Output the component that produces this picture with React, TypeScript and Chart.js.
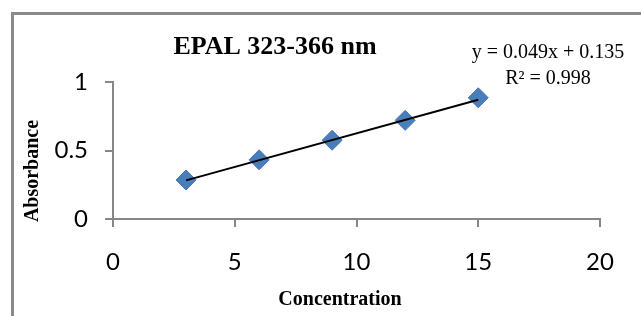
import React, { useEffect, useRef } from "react";
import { Chart, registerables } from "chart.js";

Chart.register(...registerables);

const concentration = [3, 6, 9, 12, 15];
const absorbance = [0.285, 0.432, 0.575, 0.72, 0.885];
const trendX = [3, 15];
const trendY = [0.282, 0.87];
const xTicks = [0, 5, 10, 15, 20];
const yTicks = [0, 0.5, 1];
const chartTitle = "EPAL 323-366 nm";
const xTitle = "Concentration";
const yTitle = "Absorbance";
const equation = "y = 0.049x + 0.135";
const rSquared = "R² = 0.998";

const SERIF = '"Liberation Serif", "Times New Roman", serif';
const SANS = 'Lato, "Open Sans", sans-serif';

const textPlugin = {
  id: "decor",
  beforeDraw(chart: any) {
    const ctx = chart.ctx;
    ctx.save();
    ctx.fillStyle = "#ffffff";
    ctx.fillRect(0, 0, chart.width, chart.height);
    ctx.strokeStyle = "#8a8a8a";
    ctx.lineWidth = 3;
    ctx.strokeRect(12.5, 13.5, 800, 500);
    ctx.restore();
  },
  afterDraw(chart: any) {
    const ctx = chart.ctx;
    ctx.save();
    ctx.fillStyle = "#000000";
    ctx.textAlign = "center";
    ctx.textBaseline = "middle";
    ctx.font = `bold 26px ${SERIF}`;
    ctx.fillText(chartTitle, 275, 47);
    ctx.font = `20px ${SERIF}`;
    ctx.fillText(equation, 548, 53);
    ctx.fillText(rSquared, 548, 79);
    ctx.font = `bold 20px ${SERIF}`;
    ctx.fillText(xTitle, 340, 300);
    ctx.translate(33, 171);
    ctx.rotate(-Math.PI / 2);
    ctx.fillText(yTitle, 0, 0);
    ctx.restore();
  },
};

export default function App() {
  const ref = useRef<HTMLCanvasElement>(null);
  useEffect(() => {
    if (!ref.current) return;
    const chart = new Chart(ref.current, {
      type: "scatter",
      data: {
        datasets: [
          {
            type: "line",
            label: "Trend",
            data: trendX.map((x, i) => ({ x, y: trendY[i] })),
            borderColor: "#000000",
            borderWidth: 2,
            pointRadius: 0,
            fill: false,
            order: 0,
          },
          {
            label: "Absorbance",
            data: concentration.map((x, i) => ({ x, y: absorbance[i] })),
            pointStyle: "rectRot",
            pointRadius: 10,
            backgroundColor: "#4a7ebb",
            borderColor: "#4676b0",
            borderWidth: 1,
            order: 1,
          },
        ],
      },
      options: {
        animation: false,
        responsive: false,
        maintainAspectRatio: false,
        layout: { padding: { top: 82, right: 41, bottom: 0, left: 0 } },
        plugins: {
          legend: { display: false },
          title: { display: false },
          tooltip: { enabled: false },
        },
        scales: {
          x: {
            type: "linear",
            min: 0,
            max: 20,
            afterBuildTicks: (s: any) => {
              s.ticks = xTicks.map((v) => ({ value: v }));
            },
            afterFit: (s: any) => {
              s.height = 97;
            },
            grid: {
              drawOnChartArea: false,
              drawTicks: true,
              tickLength: 8,
              color: "#878787",
              lineWidth: 2,
            },
            border: { color: "#878787", width: 2 },
            ticks: {
              color: "#000000",
              font: { family: SANS, size: 24 },
              padding: 21,
              callback: (v: any) => String(v),
            },
          },
          y: {
            type: "linear",
            min: 0,
            max: 1,
            afterBuildTicks: (s: any) => {
              s.ticks = yTicks.map((v) => ({ value: v }));
            },
            afterFit: (s: any) => {
              s.width = 113;
            },
            grid: {
              drawOnChartArea: false,
              drawTicks: true,
              tickLength: 8,
              color: "#878787",
              lineWidth: 2,
            },
            border: { color: "#878787", width: 2 },
            ticks: {
              color: "#000000",
              font: { family: SANS, size: 24 },
              padding: 17,
              callback: (v: any) => String(v),
            },
          },
        },
      },
      plugins: [textPlugin],
    });
    return () => chart.destroy();
  }, []);
  return (
    <div style={{ position: "fixed", left: 0, top: 0, width: 641, height: 316 }}>
      <canvas ref={ref} width={641} height={316} style={{ width: 641, height: 316, display: "block" }} />
    </div>
  );
}
